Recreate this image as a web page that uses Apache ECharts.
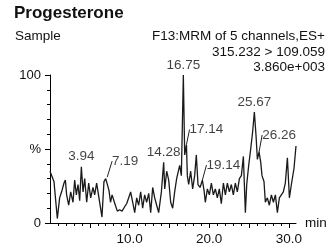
<!DOCTYPE html>
<html>
<head>
<meta charset="utf-8">
<script src="https://cdn.jsdelivr.net/npm/echarts@6/dist/echarts.min.js"></script>
<style>
  html, body { margin: 0; padding: 0; background: #fff; }
  #chart { width: 334px; height: 248px; }
</style>
</head>
<body>
<div id="chart"></div>
<script>
// Cromatograma: tiempo de retención (min) e intensidad relativa (%)
var retentionTimes = [
  0.0, 0.17, 0.50, 0.92, 1.21, 1.51, 1.76, 1.93, 2.09, 2.35,
  2.60, 2.89, 3.10, 3.31, 3.52, 3.73, 3.94, 4.15, 4.36, 4.61,
  4.86, 5.11, 5.40, 5.61, 5.86, 6.03, 6.24, 6.53, 6.78, 7.00,
  7.19, 7.41, 7.60, 7.80, 8.00, 8.21, 8.46, 8.75, 9.05, 9.38,
  9.63, 9.88, 10.13, 10.39, 10.64, 10.89, 11.14, 11.39, 11.64, 11.89,
  12.14, 12.40, 12.65, 12.90, 13.15, 13.40, 13.65, 13.99, 14.28, 14.41,
  14.66, 14.91, 15.16, 15.41, 15.66, 15.91, 16.08, 16.29, 16.50, 16.75,
  16.92, 17.14, 17.25, 17.42, 17.67, 17.92, 18.17, 18.38, 18.59, 18.85,
  19.14, 19.35, 19.51, 19.77, 20.02, 20.27, 20.52, 20.77, 21.02, 21.27,
  21.52, 21.78, 22.03, 22.28, 22.53, 22.78, 23.03, 23.28, 23.53, 23.79,
  24.04, 24.29, 24.54, 24.71, 24.96, 25.21, 25.46, 25.67, 25.88, 26.05,
  26.26, 26.47, 26.63, 26.88, 27.05, 27.30, 27.55, 27.81, 28.06, 28.31,
  28.56, 28.81, 29.06, 29.31, 29.56, 29.82, 30.07, 30.32, 30.49, 30.65,
  30.90
];
var intensities = [
  35, 36, 28, 3, 17, 22, 27, 29, 19, 12,
  21, 14, 29, 19, 26, 15, 38, 21, 30, 14,
  27, 17, 24, 19, 27, 27, 14, 4, 28, 30,
  31, 22, 14, 19, 18, 12, 8, 9, 8, 11,
  13, 12, 21, 14, 7, 17, 12, 21, 10, 19,
  14, 20, 7, 24, 17, 12, 7, 21, 41, 23,
  35, 29, 14, 10, 21, 30, 34, 39, 32, 100,
  46, 53, 32, 26, 35, 23, 32, 46, 26, 24,
  29, 22, 14, 23, 19, 27, 19, 23, 17, 23,
  13, 27, 19, 27, 21, 26, 19, 27, 21, 30,
  32, 45, 7, 26, 39, 50, 62, 75, 59, 43,
  48, 41, 32, 28, 14, 17, 12, 19, 14, 19,
  7, 17, 19, 21, 27, 44, 17, 26, 27, 37,
  52
];

// Picos etiquetados
var peakTimes = [3.94, 7.19, 14.28, 16.75, 17.14, 19.14, 25.67, 26.26];
var peakHeights = [38, 31, 41, 100, 53, 29, 75, 48];

// Marcas de los ejes
var xMinorTicks = [1, 2, 3, 4, 6, 7, 8, 9, 11, 12, 13, 14, 16, 17, 18, 19, 21, 22, 23, 24, 26, 27, 28, 29];
var xMajorTicks = [5, 10, 15, 20, 25, 30];
var xTickLabels = [10, 20, 30];
var yTickLabels = ['0', '%', '100'];

// Textos de cabecera
var titleText = 'Progesterone';
var sampleText = 'Sample';
var headerLines = ['F13:MRM of 5 channels,ES+', '315.232 > 109.059', '3.860e+003'];

// Etiquetas con línea guía y su desplazamiento (px)
var hasLeader = [false, true, false, false, true, true, false, true];
var labelShift = [[0, 0], [18, -6], [0, 0], [0, 0], [20, -5], [21, -5], [0, 0], [20, -7]];
var labelOffset = [[0, 2], [0, 0], [0, 0], [-4, 2], [0, 0], [0, 0], [0, 0], [0, 0]];

var font = 'Liberation Sans, Arial, sans-serif';
var ink = '#111';

var chartDom = document.getElementById('chart');
var myChart = echarts.init(chartDom, null, { renderer: 'canvas' });

var lineData = retentionTimes.map(function (t, i) { return [t, intensities[i]]; });
var peakData = peakTimes.map(function (t, i) {
  return {
    value: [t, peakHeights[i]],
    label: { offset: labelOffset[i] },
    labelLine: { show: hasLeader[i] }
  };
});

var headStyle = { fontFamily: font, fontSize: 13.5, fontWeight: 'normal', color: ink };

var option = {
  animation: false,
  backgroundColor: '#fff',
  textStyle: { fontFamily: font },
  title: [
    { text: titleText, left: 14, top: 5, padding: 0,
      textStyle: { fontFamily: font, fontSize: 17, fontWeight: 'bold', color: ink } },
    { text: sampleText, left: 15, top: 29, padding: 0, textStyle: headStyle },
    { text: headerLines[0], right: 9, top: 29, padding: 0, textStyle: headStyle },
    { text: headerLines[1], right: 9, top: 45, padding: 0, textStyle: headStyle },
    { text: headerLines[2], right: 9, top: 60, padding: 0, textStyle: headStyle }
  ],
  grid: { left: 48, right: 38, top: 75, bottom: 25, containLabel: false },
  xAxis: [
    {
      type: 'value', min: -0.25, max: 30.9,
      position: 'bottom',
      name: 'min', nameLocation: 'end', nameGap: 9,
      nameTextStyle: { fontFamily: font, fontSize: 13.5, color: ink },
      axisLine: { show: true, lineStyle: { color: '#000', width: 1 } },
      axisTick: { show: true, length: 3, customValues: xMinorTicks, lineStyle: { color: '#000' } },
      axisLabel: { show: false },
      splitLine: { show: false }
    },
    {
      type: 'value', min: -0.25, max: 30.9,
      position: 'bottom', offset: 0,
      axisLine: { show: false },
      axisTick: { show: true, length: 5, customValues: xMajorTicks, lineStyle: { color: '#000' } },
      axisLabel: {
        show: true, customValues: xTickLabels, margin: 9,
        fontFamily: font, fontSize: 13.5, color: ink,
        formatter: function (v) { return v.toFixed(1); }
      },
      splitLine: { show: false }
    }
  ],
  yAxis: {
    type: 'value', min: 0, max: 100, interval: 50,
    axisLine: { show: true, lineStyle: { color: '#000', width: 1 } },
    axisTick: { show: true, length: 5, lineStyle: { color: '#000' } },
    minorTick: { show: true, splitNumber: 5, length: 3, lineStyle: { color: '#000' } },
    axisLabel: {
      margin: 7, fontFamily: font, fontSize: 13, color: ink,
      formatter: function (v) { return yTickLabels[Math.round(v / 50)]; }
    },
    splitLine: { show: false }
  },
  series: [
    {
      type: 'line',
      xAxisIndex: 0,
      data: lineData,
      showSymbol: false,
      lineStyle: { color: '#1a1a1a', width: 1.3 },
      silent: true
    },
    {
      type: 'scatter',
      xAxisIndex: 0,
      data: peakData,
      symbolSize: 0,
      silent: true,
      label: {
        show: true, position: 'top', distance: 3,
        fontFamily: font, fontSize: 13.5, color: ink,
        formatter: function (p) { return p.value[0].toFixed(2); }
      },
      labelLine: { show: true, lineStyle: { color: '#222', width: 1 } },
      labelLayout: function (params) {
        var s = labelShift[params.dataIndex];
        return { dx: s[0], dy: s[1] };
      }
    }
  ]
};

myChart.setOption(option);
</script>
</body>
</html>
